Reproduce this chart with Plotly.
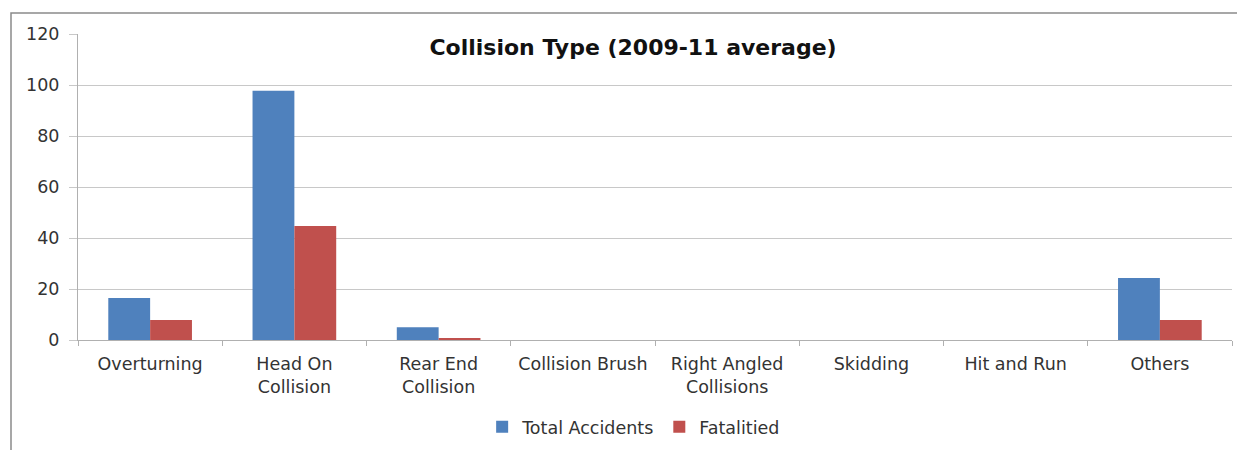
import plotly.graph_objects as go

categories = ["Overturning", "Head On<br>Collision", "Rear End<br>Collision", "Collision Brush",
              "Right Angled<br>Collisions", "Skidding", "Hit and Run", "Others"]
total_accidents = [16.5, 97.7, 5.0, 0, 0, 0, 0, 24.3]
fatalitied = [7.8, 44.7, 0.7, 0, 0, 0, 0, 7.8]
y_ticks = [0, 20, 40, 60, 80, 100, 120]

font = "DejaVu Sans"
text_color = "#333333"
# the page body adds an 8px offset, so the figure is drawn 8px smaller
W, H = 1237, 442

fig = go.Figure()
fig.add_trace(go.Bar(x=categories, y=total_accidents, name="Total Accidents",
                     marker=dict(color="#4F81BD", line=dict(width=0))))
fig.add_trace(go.Bar(x=categories, y=fatalitied, name="Fatalitied",
                     marker=dict(color="#C0504D", line=dict(width=0))))

fig.update_layout(
    width=W, height=H,
    margin=dict(l=70, r=13, t=26, b=110, autoexpand=False),
    paper_bgcolor="white", plot_bgcolor="white",
    barmode="group", bargap=0.42, bargroupgap=0,
    font=dict(family=font, size=17.5, color=text_color),
    title=dict(text="<b>Collision Type (2009-11 average)</b>", x=0.481, xref="paper",
               xanchor="center", y=1 - 39 / H, yref="container", yanchor="middle",
               font=dict(family=font, size=22, color="#111111")),
    legend=dict(orientation="h", x=0.4815, xanchor="center", y=-0.284, yanchor="middle",
                font=dict(size=17.5, color=text_color), itemwidth=30, traceorder="normal"),
    showlegend=True,
)
fig.update_xaxes(showgrid=False, showline=True, linecolor="#b0b0b0", linewidth=1,
                 ticks="outside", tickson="boundaries", ticklen=5, tickcolor="#b0b0b0",
                 tickfont=dict(size=17.5, color=text_color), ticklabelstandoff=8,
                 automargin=False)
fig.update_yaxes(range=[0, 120], tickvals=y_ticks, showgrid=True, gridcolor="#c8c8c8",
                 gridwidth=1, showline=True, linecolor="#b0b0b0", linewidth=1,
                 ticks="outside", ticklen=8, tickcolor="#c8c8c8", zeroline=False,
                 tickfont=dict(size=17.5, color=text_color), ticklabelstandoff=6,
                 automargin=False)

# outer chart frame
fig.add_shape(type="rect", xref="paper", yref="paper",
              x0=(3 - 70) / 1154, x1=(1236 - 70) / 1154,
              y0=(332 - 460) / 306, y1=(332 - 5) / 306,
              line=dict(color="#8a8a8a", width=1.5), fillcolor="rgba(0,0,0,0)", layer="below")

fig.write_html("out.html")
